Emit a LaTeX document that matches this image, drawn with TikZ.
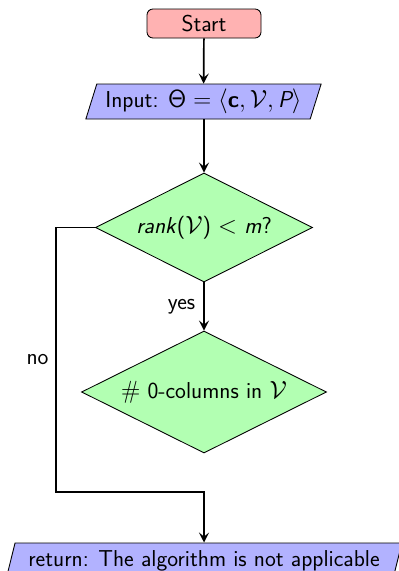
\documentclass[tikz,border=0pt]{standalone}
\usetikzlibrary{shapes.geometric,arrows.meta}
\begin{document}
\begin{tikzpicture}[x=1pt,y=1pt,
  every node/.style={font=\fontsize{23}{27}\selectfont\sffamily},
  startstop/.style={rectangle, rounded corners=6pt, draw, line width=0.87pt, fill=red!30, minimum width=114pt, minimum height=29pt, inner sep=0pt},
  io/.style={trapezium, trapezium left angle=68, trapezium right angle=112, trapezium stretches=true, draw, line width=0.87pt, fill=blue!30, inner sep=0pt},
  decision/.style={diamond, shape aspect=2, draw, line width=0.87pt, fill=green!30, inner sep=0pt},
  arr/.style={line width=1.7pt, -{Stealth[length=10pt,width=10pt,inset=4pt]}}
]
\useasboundingbox (0,0) rectangle (399,-571);
\node[startstop] (start) at (204,-23.5) {Start};
\node[io, minimum width=236pt, minimum height=35pt] (in) at (203.5,-101.5)
  {Input: $\mathsf{\Theta} = \langle \textbf{c}, \mathcal{V}, \textit{P}\rangle$};
\node[decision, minimum width=217pt, minimum height=109pt] (d1) at (204,-227.5)
  {\textit{rank}($\mathcal{V}$)~$<$~\textit{m}?};
\node[decision, minimum width=245pt, minimum height=122pt] (d2) at (204,-392)
  {$\#$ 0-columns in $\mathcal{V}$};
\node[io, minimum width=396pt, minimum height=36pt] (ret) at (204,-561)
  {return: The algorithm is not applicable};
\coordinate (corner) at (56,-492);
\draw[arr] (start) -- (in);
\draw[arr] (in.south -| start.south) -- (d1);
\draw[arr] (d1) -- node[left, inner sep=8pt] (yes) {yes} (d2);
\draw[arr] (d1.west) -| (corner) -| (ret.north);
\node (no) at (37.5,-359.5) {no};
\end{tikzpicture}
\end{document}
